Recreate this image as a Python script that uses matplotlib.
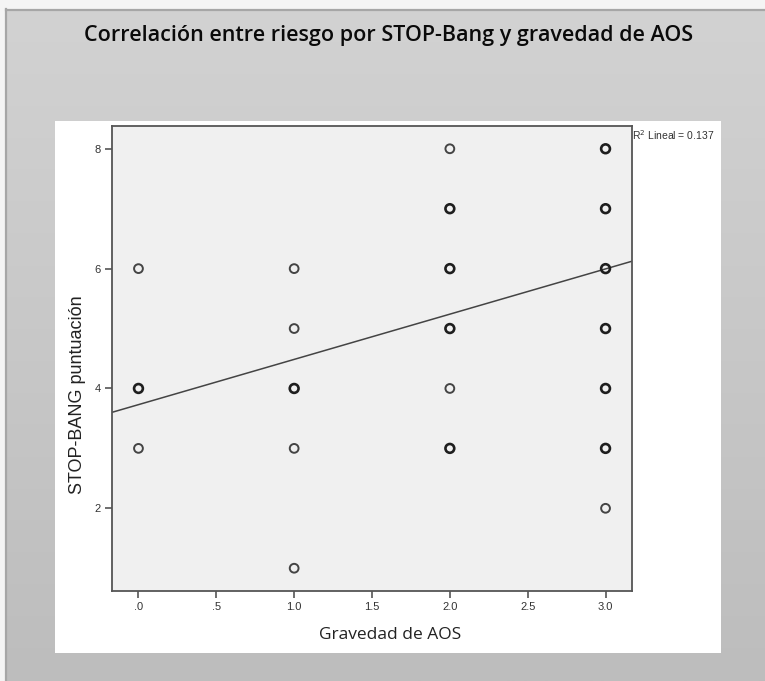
import numpy as np
import matplotlib
matplotlib.use("Agg")
import matplotlib.pyplot as plt
from matplotlib.patches import Rectangle
from matplotlib.colors import LinearSegmentedColormap

# ---- data ----
gravedad = [0, 0, 0,
            1, 1, 1, 1, 1,
            2, 2, 2, 2, 2, 2,
            3, 3, 3, 3, 3, 3, 3]
stopbang = [6, 4, 3,
            6, 5, 4, 3, 1,
            8, 7, 6, 5, 4, 3,
            8, 7, 6, 5, 4, 3, 2]
repeated = [False, True, False,
            False, False, True, False, False,
            False, True, True, True, False, True,
            True, True, True, True, True, True, False]
fit_intercept = 3.73
fit_slope = 0.755
r2_text = "R$^2$ Lineal = 0.137"
xticks = [0, 0.5, 1.0, 1.5, 2.0, 2.5, 3.0]
xticklabels = [".0", ".5", "1.0", "1.5", "2.0", "2.5", "3.0"]
yticks = [2, 4, 6, 8]
title = "Correlación entre riesgo por STOP-Bang y gravedad de AOS"
xlabel = "Gravedad de AOS"
ylabel = "STOP-BANG puntuación"

W, H = 765, 681
fig = plt.figure(figsize=(W / 100, H / 100), dpi=100)
fig.patch.set_facecolor("#f4f4f4")

def fx(px):
    return px / W

def fy(py):
    return 1 - py / H

# gradient background
bg = fig.add_axes([fx(6), 0, 1 - fx(6), fy(9)])
bg.set_zorder(-5)
bg.set_axis_off()
grad = np.linspace(0, 1, 256).reshape(-1, 1)
cmap = LinearSegmentedColormap.from_list("g", ["#d2d2d2", "#bdbdbd"])
bg.imshow(grad, aspect="auto", cmap=cmap, extent=[0, 1, 0, 1], origin="upper")
bg.set_xlim(0, 1)
bg.set_ylim(0, 1)
fig.add_artist(plt.Line2D([fx(6), 1], [fy(9.5), fy(9.5)], color="#a6a6a6", lw=1.6, zorder=-3))
fig.add_artist(plt.Line2D([fx(6.5), fx(6.5)], [0, fy(9)], color="#a6a6a6", lw=1.6, zorder=-3))

# white panel
fig.add_artist(Rectangle((fx(55), fy(653)), fx(721) - fx(55), fy(121) - fy(653),
                         transform=fig.transFigure, facecolor="white", edgecolor="none",
                         zorder=-2))

fig.text(fx(389), fy(35), title, ha="center", va="center",
         fontsize=15.5, fontweight="semibold", family=["Open Sans", "DejaVu Sans"],
         color="#0a0a0a")

ax = fig.add_axes([fx(112), fy(591), fx(632) - fx(112), fy(126) - fy(591)])
ax.set_zorder(1)
ax.set_facecolor("#f0f0f0")
for s in ax.spines.values():
    s.set_color("#555555")
    s.set_linewidth(1.3)
ax.set_xlim(-0.17, 3.17)
ax.set_ylim(0.62, 8.38)

g = np.array(gravedad)
sb = np.array(stopbang)
rep = np.array(repeated)
ax.scatter(g[~rep], sb[~rep], s=40, facecolors="none", edgecolors="#444444",
           linewidths=1.4, zorder=3)
ax.scatter(g[rep], sb[rep], s=40, facecolors="none", edgecolors="#1e1e1e",
           linewidths=1.9, zorder=3)
ax.axline((0, fit_intercept), slope=fit_slope, color="#444444", lw=1.1, zorder=2)

ax.set_xticks(xticks)
ax.set_xticklabels(xticklabels)
ax.set_yticks(yticks)
ax.tick_params(direction="out", length=5, width=1.2, color="#555555",
               labelcolor="#333333", labelsize=8, pad=3)
for lab in ax.get_xticklabels() + ax.get_yticklabels():
    lab.set_family(["Liberation Sans Narrow", "Liberation Sans", "DejaVu Sans"])

fig.text(fx(390), fy(635), xlabel, ha="center", va="center", fontsize=12.5,
         family=["Open Sans", "DejaVu Sans"], color="#222222", zorder=2)
fig.text(fx(78), fy(395), ylabel, ha="center", va="center", rotation=90,
         fontsize=13, family=["Liberation Sans", "DejaVu Sans"], color="#222222", zorder=2)
fig.text(fx(632), fy(135), r2_text, ha="left", va="center", fontsize=7.5,
         family=["Liberation Sans Narrow", "Liberation Sans", "DejaVu Sans"],
         color="#333333", zorder=2)

fig.savefig("out.png", dpi=100, facecolor=fig.get_facecolor())
